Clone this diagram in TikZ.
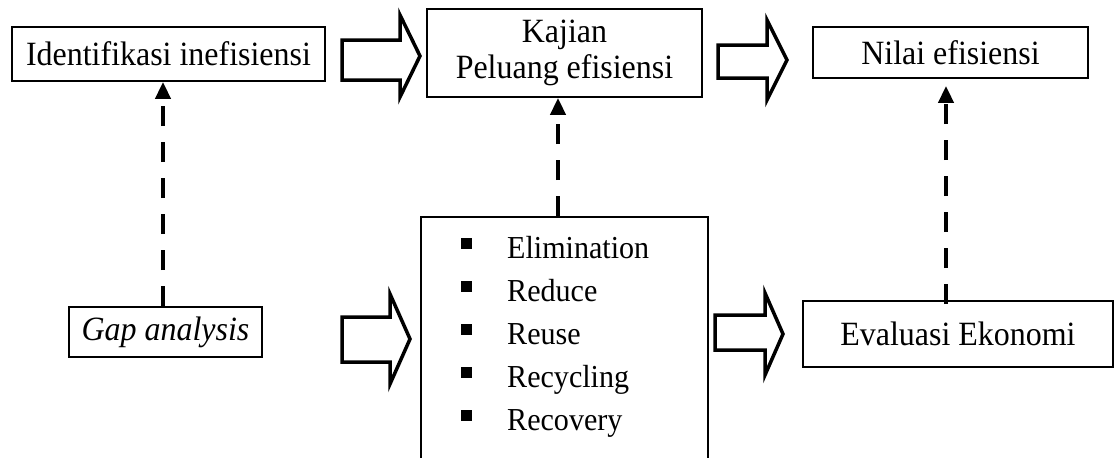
\documentclass[tikz,border=0pt]{standalone}
\usepackage{fontspec}
\setmainfont{Liberation Serif}[FakeStretch=0.94]
\usetikzlibrary{arrows.meta}
\begin{document}
\begin{tikzpicture}[x=1pt,y=-1pt,
  box/.style={draw, line width=1.8pt, inner sep=0pt, align=center,
    font=\fontsize{34}{36}\selectfont},
  fat/.style={draw, line width=3.5pt, fill=white, line join=miter},
  link/.style={line width=4pt, dash pattern=on 20pt off 16pt,
    -{Triangle[length=17pt,width=15pt]}},
  item/.style={anchor=base west, inner sep=0pt, font=\fontsize{32}{36}\selectfont},
  bullet/.style={fill=black, minimum size=11pt, inner sep=0pt}]
\clip (0,0) rectangle (1117,458);

% upper row
\node[box, minimum width=313pt, minimum height=54pt] (ident) at (168.5,54) {Identifikasi inefisiensi};
\node[box, minimum width=275pt, minimum height=88pt] (kajian) at (564.5,53) {Kajian\\Peluang efisiensi};
\node[box, minimum width=275pt, minimum height=51pt] (nilai) at (950.5,52.5) {Nilai efisiensi};

% lower row
\node[box, minimum width=193pt, minimum height=50pt] (gap) at (165.5,332) {\itshape Gap analysis};
\node[box, minimum width=287pt, minimum height=262pt, anchor=north] (list) at (564.5,216) {};
\node[box, minimum width=310pt, minimum height=66pt] (eval) at (958,334) {Evaluasi Ekonomi};

% list of options
\foreach \t [count=\i] in {Elimination,Reduce,Reuse,Recycling,Recovery} {
  \node[bullet] (b\i) at (466.5,{243+43.2*(\i-1)}) {};
  \node[item] (t\i) at (507,{258+43.2*(\i-1)}) {\t};
}

% block arrows between steps
\draw[fat] (342,40) -- (400,40) -- (400,15) -- (420,56) -- (400,97) -- (400,80) -- (342,80) -- cycle;
\draw[fat] (718,45) -- (767,45) -- (767,20) -- (787,60) -- (767,100) -- (767,78) -- (718,78) -- cycle;
\draw[fat] (342,317) -- (390,317) -- (390,294) -- (410,339) -- (390,384) -- (390,362) -- (342,362) -- cycle;
\draw[fat] (715,315) -- (765,315) -- (765,293) -- (783,334) -- (765,375) -- (765,350) -- (715,350) -- cycle;

% dashed feedback links
\coordinate (s1) at ([xshift=-2.5pt]gap.north);
\draw[link] (s1) -- (s1 |- ident.south);
\coordinate (s2) at ([xshift=-6.5pt]list.north);
\draw[link] (s2) -- (s2 |- kajian.south);
\coordinate (s3) at ([xshift=-12pt,yshift=-4pt]eval.north);
\coordinate (e3) at ([yshift=-7pt]nilai.south);
\draw[link] (s3) -- (s3 |- e3);
\end{tikzpicture}
\end{document}
